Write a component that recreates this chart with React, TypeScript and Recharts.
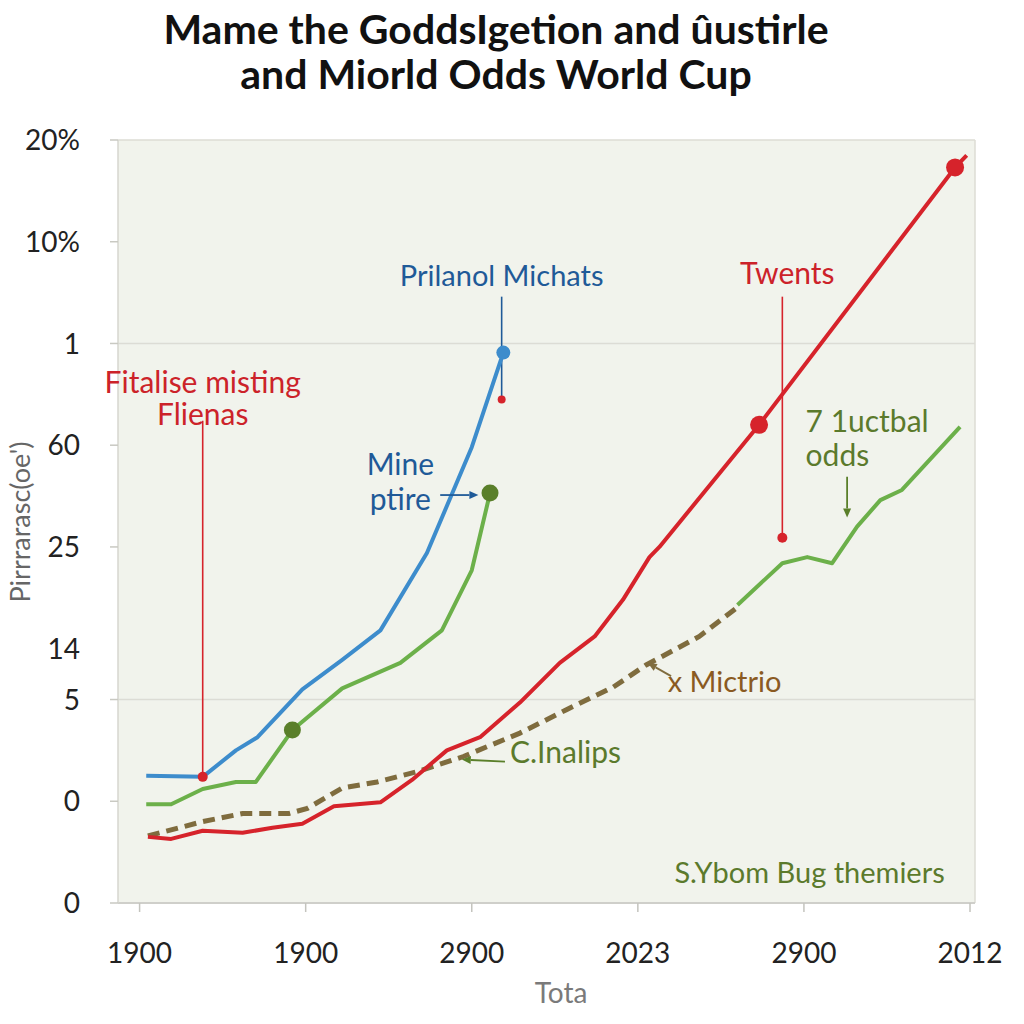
import React from 'react'
import { LineChart, Line, XAxis, YAxis, CartesianGrid, ReferenceLine, ReferenceDot } from 'recharts'

// axis ticks (value positions + the printed labels)
const xTickValues = [0, 1, 2, 3, 4, 5]
const xTickLabels = ['1900', '1900', '2900', '2023', '2900', '2012']
const yTickValues = [0, 1, 2, 2.5, 3.5, 4.5, 5.5, 6.5, 7.5]
const yTickLabels = ['0', '0', '5', '14', '25', '60', '1', '10%', '20%']
const yNoTick = ['14']

// series
const blueX = [0.04, 0.38, 0.58, 0.71, 0.98, 1.22, 1.45, 1.73, 2.0, 2.19]
const blueY = [1.25, 1.24, 1.5, 1.63, 2.1, 2.39, 2.68, 3.44, 4.48, 5.41]
const blueMarks = [9]

const greenX = [0.04, 0.19, 0.38, 0.58, 0.7, 0.92, 1.22, 1.57, 1.82, 2.0, 2.11]
const greenY = [0.97, 0.97, 1.12, 1.19, 1.19, 1.7, 2.11, 2.36, 2.68, 3.27, 4.03]
const greenMarks = [5, 10]

const redX = [0.05, 0.19, 0.38, 0.62, 0.8, 0.98, 1.17, 1.45, 1.64, 1.85, 2.05, 2.29, 2.53, 2.74, 2.91, 3.07, 3.13, 3.73, 4.91, 4.98]
const redY = [0.65, 0.63, 0.71, 0.69, 0.74, 0.78, 0.95, 0.99, 1.21, 1.5, 1.63, 1.97, 2.36, 2.62, 2.98, 3.4, 3.5, 4.7, 7.23, 7.35]
const redMarks = [17, 18]

const dashX = [0.05, 0.38, 0.62, 0.9, 1.01, 1.22, 1.43, 1.67, 1.95, 2.29, 2.57, 2.85, 3.05, 3.37, 3.61]
const dashY = [0.66, 0.8, 0.88, 0.88, 0.93, 1.13, 1.19, 1.29, 1.44, 1.67, 1.9, 2.12, 2.34, 2.62, 2.92]

const green2X = [3.6, 3.87, 4.02, 4.17, 4.32, 4.46, 4.59, 4.94]
const green2Y = [2.93, 3.34, 3.4, 3.34, 3.7, 3.96, 4.06, 4.68]

const toPoints = (xs: number[], ys: number[], marks: number[] = []) =>
  xs.map((x, i) => ({ x, y: ys[i], mark: marks.includes(i) }))

const bluePts = toPoints(blueX, blueY, blueMarks)
const greenPts = toPoints(greenX, greenY, greenMarks)
const redPts = toPoints(redX, redY, redMarks)
const dashPts = toPoints(dashX, dashY)
const green2Pts = toPoints(green2X, green2Y)

const BLUE = '#3d8ccc'
const RED = '#d6232b'
const GREEN = '#6cb04a'
const DARKGREEN = '#5a7f2a'
const BROWN = '#7f6c3e'
const BLUE_TXT = '#1f5a98'
const RED_TXT = '#cc2229'
const GREEN_TXT = '#5b7a2c'
const BROWN_TXT = '#8a5a22'
const FONT = 'Lato, "Noto Sans", sans-serif'

// annotation texts, in data units
const notes = [
  { x: 2.18, y: 6.17, text: 'Prilanol Michats', color: BLUE_TXT, pos: 'center', size: 29 },
  { x: 0.38, y: 5.12, text: 'Fitalise misting', color: RED_TXT, pos: 'center', size: 30 },
  { x: 0.38, y: 4.8, text: 'Flienas', color: RED_TXT, pos: 'center', size: 30 },
  { x: 3.9, y: 6.19, text: 'Twents', color: RED_TXT, pos: 'center', size: 30 },
  { x: 4.01, y: 4.73, text: '7 1uctbal', color: GREEN_TXT, pos: 'right', size: 30 },
  { x: 4.01, y: 4.4, text: 'odds', color: GREEN_TXT, pos: 'right', size: 30 },
  { x: 1.57, y: 4.31, text: 'Mine', color: BLUE_TXT, pos: 'center', size: 30 },
  { x: 1.57, y: 3.97, text: 'ptire', color: BLUE_TXT, pos: 'center', size: 30 },
  { x: 3.18, y: 2.18, text: 'x Mictrio', color: BROWN_TXT, pos: 'right', size: 29 },
  { x: 2.23, y: 1.48, text: 'C.Inalips', color: GREEN_TXT, pos: 'right', size: 30 },
  { x: 3.22, y: 0.3, text: 'S.Ybom Bug themiers', color: GREEN_TXT, pos: 'right', size: 29 },
]

// leader lines with a dot at the end
const leaders = [
  { x1: 2.18, y1: 5.96, x2: 2.18, y2: 4.95, color: BLUE_TXT, dot: RED, r: 4 },
  { x1: 0.38, y1: 4.74, x2: 0.38, y2: 1.24, color: RED, dot: RED, r: 5 },
  { x1: 3.87, y1: 5.96, x2: 3.87, y2: 3.59, color: RED, dot: RED, r: 5 },
]

// arrows pointing at the series
const arrows = [
  { x1: 4.26, y1: 4.19, x2: 4.26, y2: 3.79, color: DARKGREEN },
  { x1: 1.81, y1: 4.01, x2: 2.04, y2: 4.01, color: BLUE_TXT },
  { x1: 3.2, y1: 2.23, x2: 3.06, y2: 2.36, color: BROWN },
  { x1: 2.2, y1: 1.39, x2: 1.94, y2: 1.41, color: DARKGREEN },
]

const arrowShape = (color: string) => (props: any) => {
  const { x1, y1, x2, y2 } = props
  const ang = Math.atan2(y2 - y1, x2 - x1)
  const L = 9
  const W = 4
  const bx = x2 - L * Math.cos(ang)
  const by = y2 - L * Math.sin(ang)
  const px = -Math.sin(ang) * W
  const py = Math.cos(ang) * W
  return (
    <g>
      <line x1={x1} y1={y1} x2={bx} y2={by} stroke={color} strokeWidth={1.8} />
      <polygon points={`${x2},${y2} ${bx + px},${by + py} ${bx - px},${by - py}`} fill={color} />
    </g>
  )
}

const markDot = (fill: string, r: number) => (props: any) => {
  const { cx, cy, payload, index } = props
  if (!payload || !payload.mark) return <g key={`d-${index}`} />
  return <circle key={`d-${index}`} cx={cx} cy={cy} r={r} fill={fill} />
}

const YTick = (props: any) => {
  const { x, y, payload } = props
  const label = yTickLabels[yTickValues.indexOf(payload.value)]
  return (
    <g>
      {!yNoTick.includes(label) && (
        <line x1={x + 30} x2={x + 38} y1={y} y2={y} stroke="#c9c9c2" strokeWidth={1.5} />
      )}
      <text x={x} y={y} dy="0.36em" textAnchor="end" fill="#222" fontSize={28} fontFamily={FONT}>
        {label}
      </text>
    </g>
  )
}

export default function App() {
  return (
    <div style={{ position: 'absolute', left: 0, top: 0, width: 1024, height: 1024, background: '#fff' }}>
      <LineChart width={1024} height={1024} margin={{ top: 140, right: 49, bottom: 61, left: 18 }}>
        <CartesianGrid fill="#f1f3ec" horizontal={false} vertical={false} />
        <XAxis
          dataKey="x"
          type="number"
          domain={[-0.13, 5.03]}
          ticks={xTickValues}
          tickFormatter={(v: number) => xTickLabels[xTickValues.indexOf(v)]}
          height={60}
          tickSize={9}
          tickMargin={31}
          axisLine={{ stroke: '#cfcfca', strokeWidth: 2 }}
          tickLine={{ stroke: '#c4c4be', strokeWidth: 1.5 }}
          tick={{ fill: '#222', fontSize: 28, fontFamily: FONT }}
          interval={0}
        />
        <YAxis
          type="number"
          domain={[0, 7.5]}
          ticks={yTickValues}
          width={100}
          tickSize={8}
          tickMargin={30}
          axisLine={{ stroke: '#d6d6cf', strokeWidth: 1.5 }}
          tickLine={false}
          tick={<YTick />}
          interval={0}
        />
        <ReferenceLine y={7.5} stroke="#dcdcd5" strokeWidth={1.5} />
        <ReferenceLine x={5.03} stroke="#dcdcd5" strokeWidth={1.5} />
        <ReferenceLine y={5.5} stroke="#dcdcd5" strokeWidth={1.5} />
        <ReferenceLine y={2} stroke="#dcdcd5" strokeWidth={1.5} />

        {leaders.map((l, i) => (
          <ReferenceLine
            key={`l-${i}`}
            segment={[{ x: l.x1, y: l.y1 }, { x: l.x2, y: l.y2 }]}
            stroke={l.color}
            strokeWidth={1.6}
          />
        ))}

        <Line data={green2Pts} dataKey="y" type="linear" stroke={GREEN} strokeWidth={4} dot={false} isAnimationActive={false} strokeLinejoin="round" />
        <Line data={dashPts} dataKey="y" type="linear" stroke={BROWN} strokeWidth={5} strokeDasharray="12 7" dot={false} isAnimationActive={false} />
        <Line data={greenPts} dataKey="y" type="linear" stroke={GREEN} strokeWidth={4} dot={markDot(DARKGREEN, 8.5)} isAnimationActive={false} strokeLinejoin="round" />
        <Line data={bluePts} dataKey="y" type="linear" stroke={BLUE} strokeWidth={4} dot={markDot(BLUE, 7)} isAnimationActive={false} strokeLinejoin="round" />
        <Line data={redPts} dataKey="y" type="linear" stroke={RED} strokeWidth={4} dot={markDot(RED, 9)} isAnimationActive={false} strokeLinejoin="round" />

        {leaders.map((l, i) => (
          <ReferenceDot key={`ld-${i}`} x={l.x2} y={l.y2} r={l.r} fill={l.dot} stroke="none" />
        ))}
        {arrows.map((a, i) => (
          <ReferenceLine
            key={`a-${i}`}
            segment={[{ x: a.x1, y: a.y1 }, { x: a.x2, y: a.y2 }]}
            shape={arrowShape(a.color)}
          />
        ))}
        {notes.map((n, i) => (
          <ReferenceDot
            key={`n-${i}`}
            x={n.x}
            y={n.y}
            r={0}
            stroke="none"
            fill="none"
            label={{
              value: n.text,
              position: n.pos as any,
              offset: 0,
              fill: n.color,
              fontSize: n.size,
              fontFamily: FONT,
            }}
          />
        ))}
      </LineChart>
      <svg width={1024} height={1024} style={{ position: 'absolute', left: 0, top: 0, pointerEvents: 'none' }}>
        <text x={496} y={44} textAnchor="middle" fontSize={41} fontWeight={700} fill="#111" fontFamily={FONT}>
          Mame the GoddsIgetion and ûustirle
        </text>
        <text x={496} y={89} textAnchor="middle" fontSize={41} fontWeight={700} fill="#111" fontFamily={FONT}>
          and Miorld Odds  World Cup
        </text>
        <text
          x={30}
          y={522}
          transform="rotate(-90 30 522)"
          textAnchor="middle"
          fontSize={27}
          fill="#666"
          fontFamily={FONT}
        >
          Pirrrarasc(oe')
        </text>
        <text x={561} y={1003} textAnchor="middle" fontSize={28} fill="#7a7a7a" fontFamily={FONT}>
          Tota
        </text>
      </svg>
    </div>
  )
}
